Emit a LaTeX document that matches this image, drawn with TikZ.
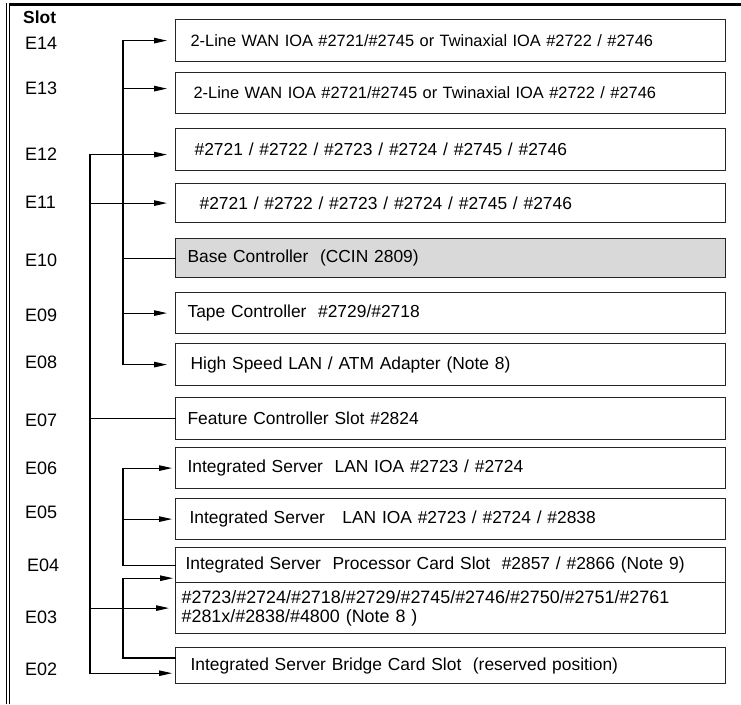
\documentclass[tikz,border=0pt]{standalone}
\usepackage{fontspec}
\setmainfont{Liberation Sans}
\usetikzlibrary{arrows.meta, calc}
\newcommand{\slotfont}{\fontsize{17.4}{19}\selectfont}
\newcommand{\wanfont}{\fontsize{16.4}{19}\selectfont}
\newcommand{\listfont}{\fontsize{17.9}{19}\selectfont}
\tikzset{
    % Box styles
    slotbox/.style={
        rectangle,
        draw=black!85,
        line width=1.2pt,
        anchor=north west,
        inner xsep=#1,
        inner ysep=0pt,
        text width={550pt-2*(#1)},
        align=left,
        font=\slotfont
    },
    slotbox/.default=13pt,
    slotlabel/.style={
        anchor=west,
        inner sep=0pt,
        font=\fontsize{18}{20}\selectfont
    },
    % Arrow styles
    wire/.style={
        line width=1.1pt,
        black,
        line cap=rect
    },
    slotarrow/.style={
        wire,
        -{Triangle[length=13pt,width=5.5pt]},
        shorten >=8pt
    },
    lowarrow/.style={
        slotarrow,
        shorten >=3pt
    }
}

\begin{document}
\begin{tikzpicture}[x=1pt, y=-1pt]
    \useasboundingbox (0,0) rectangle (741,704);

    % frame
    \draw[line width=3pt] (5.5,4.5) -- (741,4.5);
    \draw[line width=0.9pt, double, double distance=1.8pt] (8,3) -- (8,704);

    % slot numbers
    \node[slotlabel, font=\slotfont\bfseries] (slot) at (23,17) {Slot};
    \node[slotlabel] (l14) at (25,43) {E14};
    \node[slotlabel] (l13) at (25,88) {E13};
    \node[slotlabel] (l12) at (25,154) {E12};
    \node[slotlabel] (l11) at (25,202) {E11};
    \node[slotlabel] (l10) at (25,260) {E10};
    \node[slotlabel] (l09) at (25,315) {E09};
    \node[slotlabel] (l08) at (25,362) {E08};
    \node[slotlabel] (l07) at (25,420) {E07};
    \node[slotlabel] (l06) at (25,468) {E06};
    \node[slotlabel] (l05) at (25,512) {E05};
    \node[slotlabel] (l04) at (27,565) {E04};
    \node[slotlabel] (l03) at (25,617) {E03};
    \node[slotlabel] (l02) at (25,669) {E02};

    % cards
    \node[slotbox=15pt, minimum height=42pt, font=\wanfont] (e14) at (175,19) {2-Line WAN IOA \#2721/\#2745 or Twinaxial IOA \#2722 / \#2746};
    \node[slotbox=18pt, minimum height=41pt, font=\wanfont] (e13) at (175,72) {2-Line WAN IOA \#2721/\#2745 or Twinaxial IOA \#2722 / \#2746};
    \node[slotbox=19pt, minimum height=42pt] (e12) at (175,128) {\#2721 / \#2722 / \#2723 / \#2724 / \#2745 / \#2746};
    \node[slotbox=24pt, minimum height=39pt] (e11) at (175,183) {\#2721 / \#2722 / \#2723 / \#2724 / \#2745 / \#2746};
    \node[slotbox=12pt, minimum height=39pt, fill=black!15] (e10) at (175,238) {Base Controller~ (CCIN 2809)};
    \node[slotbox=12pt, minimum height=41pt] (e09) at (175,292) {Tape Controller~ \#2729/\#2718};
    \node[slotbox=15pt, minimum height=42pt] (e08) at (175,343) {High Speed LAN / ATM Adapter (Note 8)};
    \node[slotbox=12pt, minimum height=42pt] (e07) at (175,397) {Feature Controller Slot \#2824};
    \node[slotbox=12pt, minimum height=41pt] (e06) at (175,447) {Integrated Server~ LAN IOA \#2723 / \#2724};
    \node[slotbox=14pt, minimum height=41pt] (e05) at (175,498) {Integrated Server~~ LAN IOA \#2723 / \#2724 / \#2838};
    \node[slotbox=10pt, minimum height=35pt] (e04) at (175,547) {Integrated Server~ Processor Card Slot~ \#2857 / \#2866 (Note 9)};
    \node[slotbox=6pt, minimum height=51pt, font=\listfont] (e03) at (175,582) {\#2723/\#2724/\#2718/\#2729/\#2745/\#2746/\#2750/\#2751/\#2761\\\#281x/\#2838/\#4800 (Note 8 )};
    \node[slotbox=15pt, minimum height=36pt] (e02) at (175,647) {Integrated Server Bridge Card Slot~ (reserved position)};

    % bus positions
    \coordinate (inbus) at (123,0);
    \coordinate (outbus) at (90,0);
    \coordinate (p13) at ($(e13.west)+(0,-4.5)$);
    \coordinate (p12) at ($(e12.west)+(0,5)$);
    \coordinate (p04) at ($(e04.south west)+(0,-5)$);
    \coordinate (p02a) at ($(e02.north west)+(0,11)$);
    \coordinate (p02b) at ($(e02.south west)+(0,-11)$);

    % inner bus, upper group
    \draw[slotarrow] (inbus |- e08.west) |- (e14.west);
    \draw[slotarrow] (inbus |- p13) -- (p13);
    \draw[wire] (inbus |- e10.west) -- (e10.west);
    \draw[slotarrow] (inbus |- e09.west) -- (e09.west);
    \draw[slotarrow] (inbus |- e08.west) -- (e08.west);

    % outer bus
    \draw[lowarrow] (outbus |- p12) |- (p02b);
    \draw[slotarrow] (outbus |- p12) -- (p12);
    \draw[slotarrow] (outbus |- e11.west) -- (e11.west);
    \draw[wire] (outbus |- e07.west) -- (e07.west);
    \draw[lowarrow, shorten >=6pt] (outbus |- e03.west) -- (e03.west);

    % inner bus, lower groups
    \draw[lowarrow] (e04.west) -- (inbus |- e04.west) |- (e06.west);
    \draw[lowarrow] (inbus |- e05.west) -- (e05.west);
    \draw[lowarrow, shorten >=2pt] (p02a) -- (inbus |- p02a) |- (p04);
\end{tikzpicture}
\end{document}
